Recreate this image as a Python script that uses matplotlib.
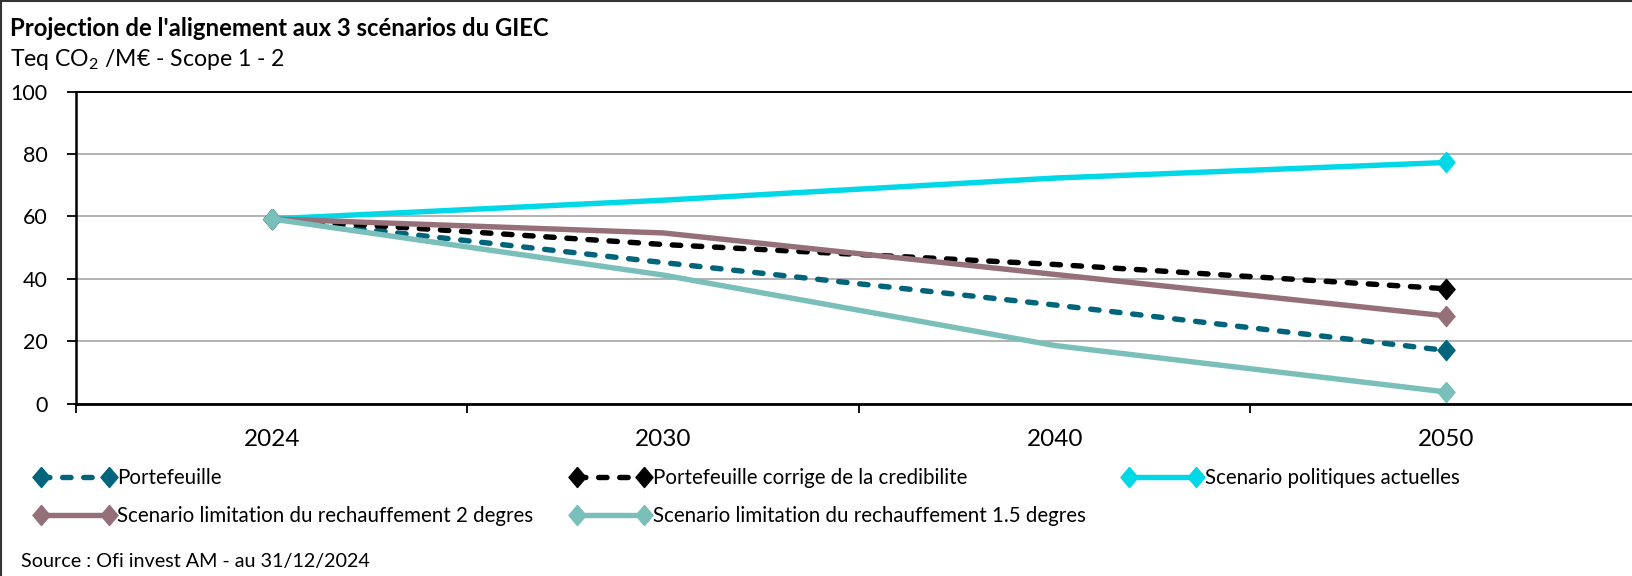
import matplotlib
matplotlib.use("Agg")
import matplotlib.pyplot as plt
from matplotlib.lines import Line2D

plt.rcParams['font.family'] = ['Lato', 'DejaVu Sans']
plt.rcParams['mathtext.default'] = 'regular'

# data
years = ['2024', '2030', '2040', '2050']
portefeuille = [59.2, 45.2, 31.6, 17.0]
portefeuille_corrige = [59.2, 51.0, 44.6, 36.8]
politiques_actuelles = [59.2, 65.2, 72.3, 77.3]
limitation_2deg = [59.2, 54.7, 41.4, 28.1]
limitation_15deg = [59.2, 41.2, 18.6, 3.7]

labels = ['Portefeuille',
          'Portefeuille corrige de la credibilite',
          'Scenario politiques actuelles',
          'Scenario limitation du rechauffement 2 degres',
          'Scenario limitation du rechauffement 1.5 degres']
colors = ['#00657a', '#000000', '#00d8e8', '#967079', '#7abfb9']
dashed = [True, True, False, False, False]
series = [portefeuille, portefeuille_corrige, politiques_actuelles,
          limitation_2deg, limitation_15deg]

diamond = [(0, 1), (0.85, 0), (0, -1), (-0.85, 0), (0, 1)]

W, H = 1633, 576
fig = plt.figure(figsize=(W / 100, H / 100), dpi=100)

left, right, top, bottom = 76, 1642, 91.7, 403.5
ax = fig.add_axes([left / W, 1 - bottom / H, (right - left) / W, (bottom - top) / H])

x = list(range(len(years)))
handles = []
for vals, lab, col, dsh in zip(series, labels, colors, dashed):
    kw = dict(color=col, lw=3.9, marker=diamond, markersize=14.5,
              markevery=[0, len(vals) - 1], solid_capstyle='butt')
    if dsh:
        kw.update(linestyle=(0, (1.55, 2.35)), dash_capstyle='round')
    ln, = ax.plot(x, vals, label=lab, **kw)
    handles.append(ln)

ax.set_xlim(-0.5, 3.5)
ax.set_ylim(0, 100)
ax.set_yticks(range(0, 101, 20))
ax.set_xticks(x)
ax.set_xticklabels(years)
ax.set_xticks([-0.5, 0.5, 1.5, 2.5, 3.5], minor=True)
ax.tick_params(axis='x', which='major', length=0, pad=18, labelsize=17.5)
ax.tick_params(axis='x', which='minor', length=6.5, width=1.3, direction='out')
ax.tick_params(axis='y', length=6.5, width=1.3, pad=14, labelsize=15.5)

ax.grid(axis='y', color='#a6a6a6', lw=1.2)
ax.set_axisbelow(True)
ax.spines['right'].set_visible(False)
ax.spines['top'].set_color('black')
ax.spines['top'].set_linewidth(1.4)
ax.spines['left'].set_linewidth(1.8)
ax.spines['bottom'].set_linewidth(2.0)

# legend, column-major order so rows read like the reference
order = [0, 3, 1, 4, 2]
fig.legend([handles[i] for i in order], [labels[i] for i in order],
           ncol=3, loc='upper left', bbox_to_anchor=(35 / W, 1 - 468 / H),
           frameon=False, fontsize=14.8, numpoints=2, handlelength=3.9,
           handletextpad=0.1, columnspacing=1.8, labelspacing=0.87,
           borderaxespad=0, borderpad=0)

fig.text(10 / W, 1 - 28 / H, "Projection de l'alignement aux 3 scénarios du GIEC",
         fontsize=17.2, fontweight='bold', va='center', ha='left')
fig.text(10 / W, 1 - 60 / H, "Teq CO$_2$ /M€ - Scope 1 - 2",
         fontsize=16.6, va='center', ha='left')
fig.text(21 / W, 1 - 561 / H, "Source : Ofi invest AM - au 31/12/2024",
         fontsize=14.2, va='center', ha='left')

# outer frame
fig.add_artist(Line2D([1 / W, 1 / W], [0, 1], color='#333333', lw=1.5,
                      transform=fig.transFigure))
fig.add_artist(Line2D([0, 1], [1 - 1 / H, 1 - 1 / H], color='#333333', lw=1.5,
                      transform=fig.transFigure))

fig.savefig('out.png', dpi=100)
